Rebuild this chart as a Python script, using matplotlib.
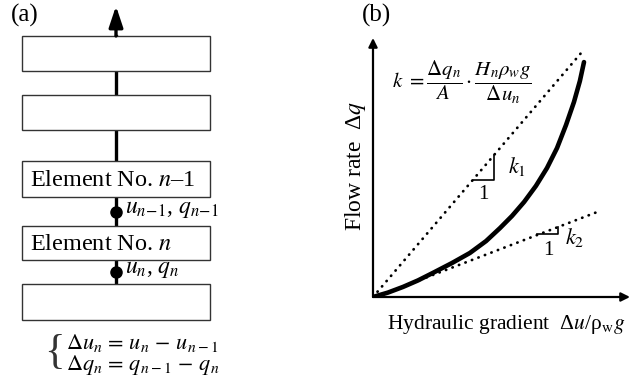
import matplotlib.pyplot as plt
from matplotlib.patches import Rectangle

plt.rcParams['font.family'] = ['Liberation Serif', 'DejaVu Serif']
plt.rcParams['mathtext.fontset'] = 'stix'

# (a) column of elements (left panel drawn in pixel units)
box_labels = ['', '', 'Element No. $n$\u20131', 'Element No. $n$', '']
box_top = [36, 95, 161, 226, 284]
box_bottom = [71, 130, 197, 260, 320]
node_y = [212, 272]
node_labels = [r'$u_{n\!-\!1}$, $q_{n\!-\!1}$', r'$u_n$, $q_n$']
eq_lines = [r'$\Delta u_n\,=\,u_n\,-\,u_{n-1}$', r'$\Delta q_n\,=\,q_{n-1}\,-\,q_n$']

# (b) flow rate vs hydraulic gradient
curve_x = [0, 0.58, 1.17, 1.75, 2.33, 3.07, 3.77, 4.40, 4.94, 5.41, 5.88, 6.34,
           6.77, 7.16, 7.51, 7.82, 8.05, 8.21]
curve_y = [0, 0.17, 0.39, 0.64, 0.93, 1.31, 1.70, 2.16, 2.66, 3.13, 3.67, 4.29,
           4.98, 5.75, 6.64, 7.53, 8.34, 9.07]
k1_x = [0, 8.13]
k1_y = [0, 9.46]
k2_x = [1.83, 8.72]
k2_y = [0.66, 3.28]
tri1_x = [3.89, 4.71, 4.71]
tri1_y = [4.52, 4.52, 5.48]
tri2_x = [6.38, 7.20, 7.20]
tri2_y = [2.43, 2.43, 2.70]

fig = plt.figure(figsize=(6.4, 3.83), dpi=100)

# ---- panel (a) ----
axa = fig.add_axes([0, 0, 220 / 640, 1])
axa.set_xlim(0, 220)
axa.set_ylim(383, 0)
axa.axis('off')

axa.plot([116, 116], [box_top[0], box_top[-1]], color='k', lw=2.4, zorder=1)
axa.annotate('', xy=(116, 6), xytext=(116, box_top[0]),
             arrowprops=dict(arrowstyle='-|>,head_length=0.9,head_width=0.3', lw=2.4,
                             color='k', mutation_scale=14, shrinkA=0, shrinkB=0))
for top, bot, lbl in zip(box_top, box_bottom, box_labels):
    axa.add_patch(Rectangle((22, top), 188, bot - top, facecolor='white',
                            edgecolor='#333333', lw=1.0, zorder=2))
    if lbl:
        axa.text(30, (top + bot) / 2 + 1, lbl, fontsize=17.5, va='center', ha='left', zorder=3)

for y, lbl in zip(node_y, node_labels):
    axa.plot(116, y, 'o', color='k', ms=8, zorder=3)
    axa.text(125, y - 2, lbl, fontsize=17, va='center', ha='left')

axa.text(54, 353, '{', fontsize=31, va='center', ha='center', color='#333333',
         fontweight='light')
for i, eq in enumerate(eq_lines):
    axa.text(66, 343 + 22 * i, eq, fontsize=16, va='center', ha='left')

axa.text(11, 15, '(a)', fontsize=18, va='center', ha='left')

# ---- panel (b) ----
axb = fig.add_axes([373 / 640, 86 / 383, 257 / 640, 259 / 383])
axb.set_xlim(0, 10)
axb.set_ylim(0, 10)
axb.axis('off')

arrow = dict(arrowstyle='-|>', lw=1.6, color='k', mutation_scale=13, shrinkA=0, shrinkB=0)
axb.annotate('', xy=(0, 10), xytext=(0, 0), arrowprops=arrow, annotation_clip=False)
axb.annotate('', xy=(10, 0), xytext=(0, 0), arrowprops=arrow, annotation_clip=False)

dots = dict(color='k', lw=2.0, ls=(0, (0.1, 2.4)), dash_capstyle='round')
axb.plot(k1_x, k1_y, **dots)
axb.plot(k2_x, k2_y, **dots)
axb.plot(curve_x, curve_y, color='k', lw=3.3, solid_capstyle='round', solid_joinstyle='round')

axb.plot(tri1_x, tri1_y, color='k', lw=1.2)
axb.plot(tri2_x, tri2_y, color='k', lw=1.2)
axb.text(5.25, 5.02, '$k_1$', fontsize=16, va='center', ha='left')
axb.text(4.28, 3.94, '1', fontsize=15, va='center', ha='center')
axb.text(7.47, 2.28, '$k_2$', fontsize=16, va='center', ha='left')
axb.text(6.81, 1.81, '1', fontsize=15, va='center', ha='center')

axb.text(0.74, 8.3, r'$k\ =\dfrac{\Delta q_n}{A}\cdot\dfrac{H_n\rho_w g}{\Delta u_n}$',
         fontsize=15, va='center', ha='left')

axb.text(-0.7, 5.06, 'Flow rate  \u0394$q$', fontsize=17, rotation=90,
         va='center', ha='center', clip_on=False)
axb.text(5.18, -1.08, 'Hydraulic gradient  \u0394$u$/\u03c1$_\\mathrm{w}$$g$', fontsize=15.5,
         va='center', ha='center', clip_on=False)

fig.text(362 / 640, 1 - 15 / 383, '(b)', fontsize=18, va='center', ha='left')

fig.savefig('out.png', dpi=100)
